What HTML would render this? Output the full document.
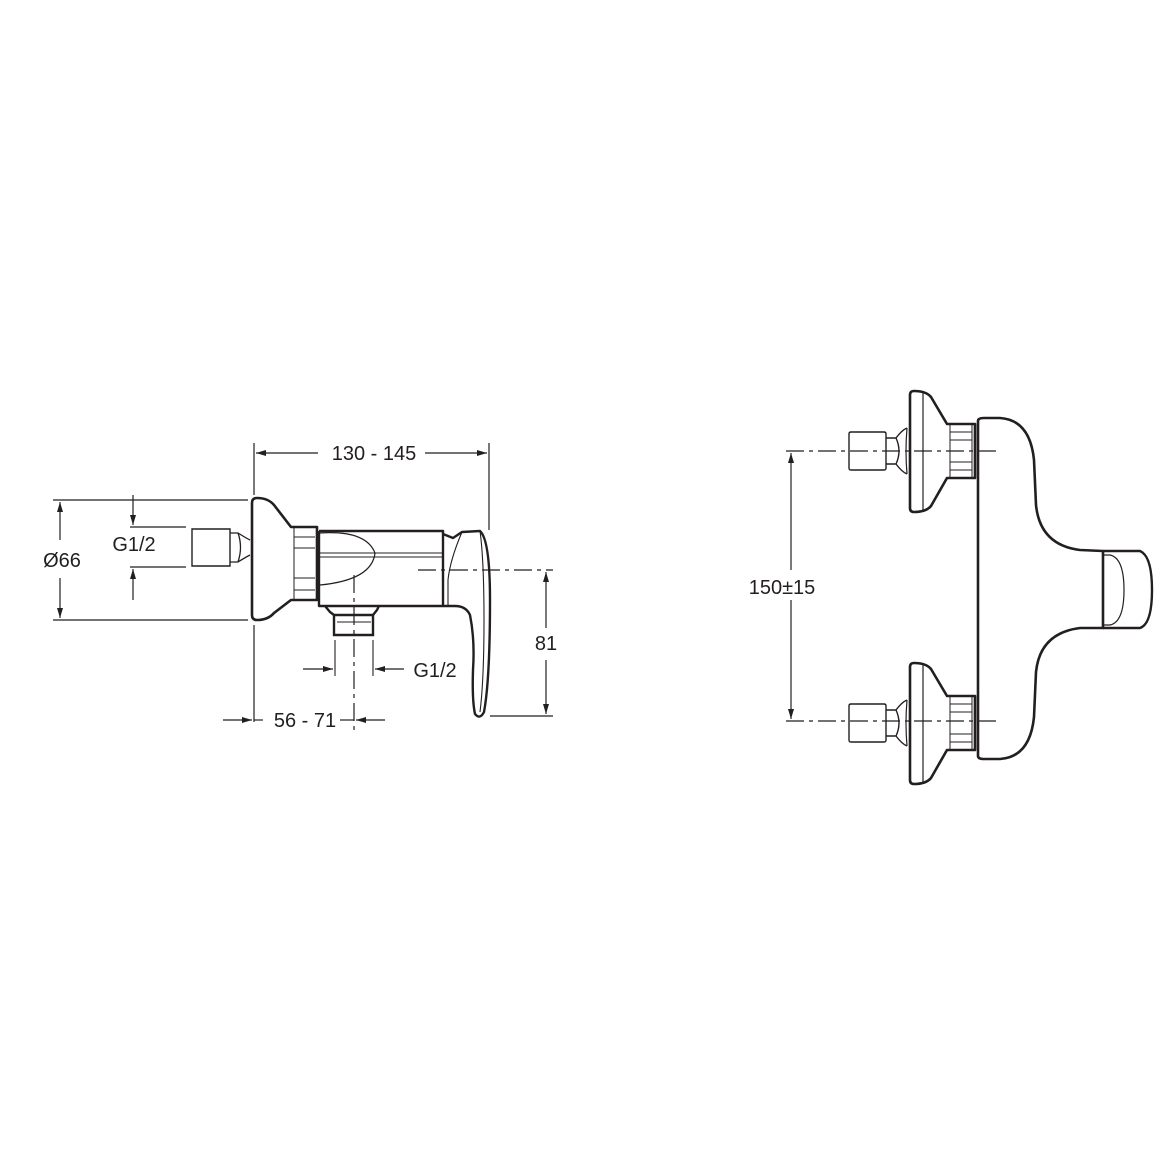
<!DOCTYPE html>
<html><head><style>
html,body{margin:0;padding:0;background:#fff}
svg{display:block}
text{font-family:"Liberation Sans",sans-serif;font-size:20px;fill:#231f20}
</style></head><body>
<svg width="1174" height="1174" viewBox="0 0 1174 1174" xmlns="http://www.w3.org/2000/svg">
<defs>
<marker id="a" viewBox="0 0 10 6" refX="10" refY="3" markerWidth="10" markerHeight="6" orient="auto" markerUnits="userSpaceOnUse"><path d="M0,0L10,3L0,6z" fill="#231f20"/></marker>
<g id="valve">
 <path d="M849,434 Q849,432 851,432 L884,432 Q886,432 886,434 L886,468 Q886,470 884,470 L851,470 Q849,470 849,468 Z" fill="none" stroke="#231f20" stroke-width="1.4"/>
 <path d="M886,438 L896,438 Q902,430 907,428 M886,464 L896,464 Q902,472 907,474 M896,438 Q902,451 896,464" fill="none" stroke="#231f20" stroke-width="1.4"/>
 <path d="M907,428 Q905,451 907,474" fill="none" stroke="#231f20" stroke-width="1.2"/>
 <path d="M910,395 Q910,391 914,391 Q926,391 931,397 L947,424 L975,424 L975,478 L947,478 L931,506 Q926,512 914,512 Q910,512 910,508 Z" fill="none" stroke="#231f20" stroke-width="2.6" stroke-linejoin="round"/>
 <path d="M923,393 L923,510" stroke="#231f20" stroke-width="1.2"/>
 <path d="M950,424 L950,478 M950,432 L972,432 M950,470 L972,470 M972,424 L972,478 M950,440 L972,440 M950,462 L972,462" fill="none" stroke="#231f20" stroke-width="1"/>
</g>
</defs>

<g stroke="#231f20" fill="none">
<line x1="254" y1="443" x2="254" y2="495" stroke-width="1.2"/>
<line x1="489" y1="443" x2="489" y2="530" stroke-width="1.2"/>
<line x1="318" y1="453" x2="256" y2="453" stroke-width="1.2" marker-end="url(#a)"/>
<line x1="425" y1="453" x2="487" y2="453" stroke-width="1.2" marker-end="url(#a)"/>
<line x1="53" y1="500" x2="248" y2="500" stroke-width="1.2"/>
<line x1="53" y1="620" x2="248" y2="620" stroke-width="1.2"/>
<line x1="60" y1="540" x2="60" y2="502" stroke-width="1.2" marker-end="url(#a)"/>
<line x1="60" y1="578" x2="60" y2="618" stroke-width="1.2" marker-end="url(#a)"/>
<line x1="130" y1="527" x2="186" y2="527" stroke-width="1.2"/>
<line x1="130" y1="567" x2="186" y2="567" stroke-width="1.2"/>
<line x1="133" y1="495" x2="133" y2="525" stroke-width="1.2" marker-end="url(#a)"/>
<line x1="133" y1="600" x2="133" y2="569" stroke-width="1.2" marker-end="url(#a)"/>
<path d="M192,529 L230,529 L230,566 L192,566 Z" stroke-width="1.4"/>
<path d="M230,533 L238,533 Q246,538 250,540 M230,562 L238,562 Q246,557 250,555 M238,533 Q243,547 238,562" stroke-width="1.3"/>
<path d="M252,503 Q252,498 257,498 Q268,498 274,505 L291,527 L317,527 L317,600 L291,600 L274,613 Q268,620 257,620 Q252,620 252,615 Z" stroke-width="2.6" stroke-linejoin="round"/>
<path d="M294,527 L294,600 M294,537 L315,537 M294,590 L315,590 M294,548 L315,548 M294,578 L315,578" stroke-width="1"/>
<path d="M319,531 L443,531 L443,606 L325,606 L330,612 L334,615 L373,615 L377,610 L379,606 M319,531 L319,606 L325,606" stroke-width="2.4" stroke-linejoin="round"/>
<path d="M334,615 L334,635 L373,635 L373,615" stroke-width="2.4"/>
<path d="M337,622 L371,622" stroke-width="1"/>
<path d="M320,553 L443,553 M320,557 L443,557" stroke-width="1"/>
<path d="M320,533 Q366,530 375,553 Q372,580 320,585" stroke-width="1.2"/>
<path d="M443,534 L453,538 L462,532 L480,531 Q490,540 490,600 Q490,680 484,712 Q480,720 475,714 Q472,700 473,670 Q475,640 470,615 Q466,606 455,606 L443,606" stroke-width="2.4" stroke-linejoin="round"/>
<path d="M462,532 Q450,560 448,580 L448,606 M480,531 Q484,560 484,620 Q484,680 480,712" stroke-width="1.1"/>
<line x1="418" y1="570" x2="553" y2="570" stroke-width="1.2" stroke-dasharray="18,5,4,5"/>
<line x1="490" y1="716" x2="553" y2="716" stroke-width="1.2"/>
<line x1="546" y1="628" x2="546" y2="572" stroke-width="1.2" marker-end="url(#a)"/>
<line x1="546" y1="660" x2="546" y2="714" stroke-width="1.2" marker-end="url(#a)"/>
<line x1="354" y1="575" x2="354" y2="735" stroke-width="1.2" stroke-dasharray="18,5,4,5"/>
<line x1="335" y1="640" x2="335" y2="676" stroke-width="1.1"/>
<line x1="373" y1="640" x2="373" y2="676" stroke-width="1.1"/>
<line x1="303" y1="669" x2="333" y2="669" stroke-width="1.2" marker-end="url(#a)"/>
<line x1="404" y1="669" x2="375" y2="669" stroke-width="1.2" marker-end="url(#a)"/>
<line x1="254" y1="625" x2="254" y2="722" stroke-width="1.2"/>
<line x1="223" y1="720" x2="252" y2="720" stroke-width="1.2" marker-end="url(#a)"/>
<line x1="263" y1="720" x2="254" y2="720" stroke-width="1.2"/>
<line x1="385" y1="720" x2="356" y2="720" stroke-width="1.2" marker-end="url(#a)"/>
<line x1="340" y1="720" x2="354" y2="720" stroke-width="1.2"/>

<line x1="786" y1="451" x2="996" y2="451" stroke-width="1.2" stroke-dasharray="18,5,4,5"/>
<line x1="786" y1="721" x2="996" y2="721" stroke-width="1.2" stroke-dasharray="18,5,4,5"/>
<line x1="791" y1="570" x2="791" y2="453" stroke-width="1.2" marker-end="url(#a)"/>
<line x1="791" y1="600" x2="791" y2="719" stroke-width="1.2" marker-end="url(#a)"/>
<path d="M978,421 Q978,418 984,418 L1000,418 Q1030,420 1034,460 L1036,505 Q1040,545 1080,550 L1103,551 L1103,628 L1080,628 Q1040,633 1036,672 L1034,717 Q1030,757 1000,759 L984,759 Q978,759 978,756 Z" stroke-width="2.6" stroke-linejoin="round"/>
<path d="M1103,551 L1140,551 Q1152,556 1152,590 Q1152,624 1140,628 L1103,628" stroke-width="2.4"/>
<path d="M1103,555 L1110,555 Q1124,558 1124,590 Q1124,622 1110,625 L1103,625" stroke-width="1.2"/>
</g>
<use href="#valve"/>
<use href="#valve" transform="translate(0,272)"/>

<text x="374" y="460" text-anchor="middle">130 - 145</text>
<text x="62" y="567" text-anchor="middle">Ø66</text>
<text x="134" y="551" text-anchor="middle">G1/2</text>
<text x="546" y="650" text-anchor="middle">81</text>
<text x="435" y="677" text-anchor="middle">G1/2</text>
<text x="305" y="727" text-anchor="middle">56 - 71</text>
<text x="782" y="594" text-anchor="middle">150±15</text>
</svg>
</body></html>
